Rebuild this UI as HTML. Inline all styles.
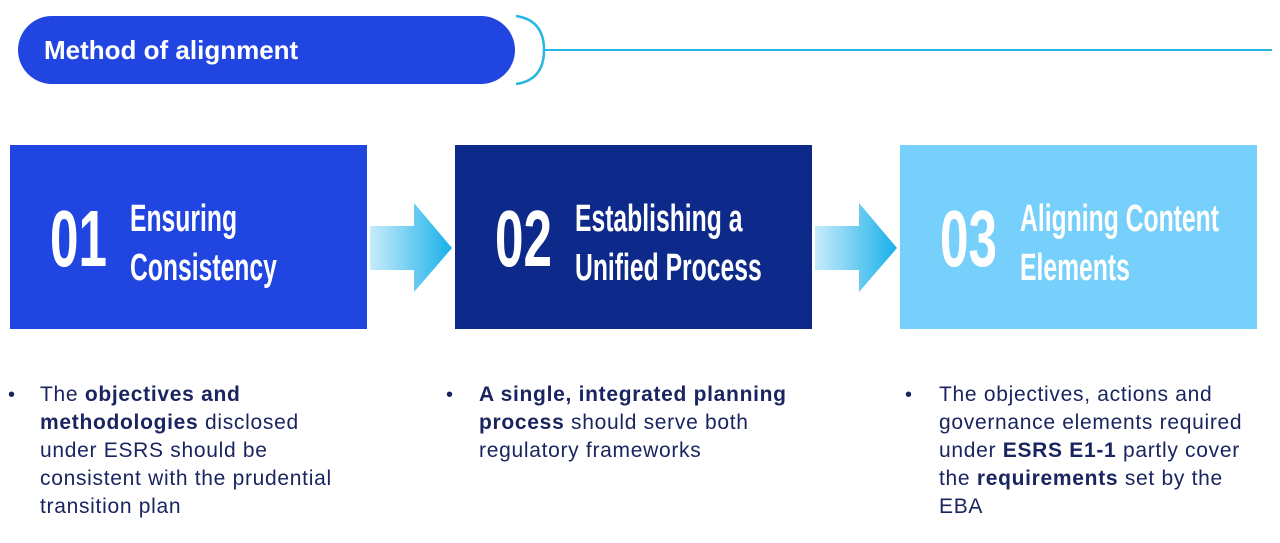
<!DOCTYPE html>
<html><head><style>
body{margin:0;width:1280px;height:543px;background:#fff;position:relative;overflow:hidden;font-family:"Liberation Sans",sans-serif}
.pill{position:absolute;left:18px;top:16px;width:497px;height:68px;border-radius:34px;background:#2145e0;color:#fff;font-weight:bold;font-size:26px;line-height:68px;padding-left:26px;box-sizing:border-box}
.box{position:absolute;top:145px;width:357px;height:184px}
.num{position:absolute;left:40px;top:54px;font-weight:bold;font-size:80px;line-height:80px;color:#fff;transform:scaleX(0.64);transform-origin:left top}
.tt{position:absolute;left:120px;top:50px;font-weight:bold;font-size:38px;line-height:49px;color:#fff;transform:scaleX(0.65);transform-origin:left top;white-space:nowrap}
.txt{position:absolute;top:381px;font-size:21px;line-height:28px;color:#1a2560;letter-spacing:0.7px;white-space:nowrap}
.txt b{font-weight:bold}
.bul{position:absolute;top:381px;font-size:20px;line-height:28px;color:#1a2560}
</style></head><body>
<div class="pill">Method of alignment</div>
<svg style="position:absolute;left:0;top:0" width="1280" height="543">
<path d="M516 16 Q544 20 544 50 Q544 80 516 84" fill="none" stroke="#29b6e0" stroke-width="2.5"/>
<line x1="544" y1="50" x2="1272" y2="50" stroke="#29b6e0" stroke-width="2"/>
<defs><linearGradient id="g" x1="0" x2="1"><stop offset="0" stop-color="#c8ecfa"/><stop offset="1" stop-color="#18b0ea"/></linearGradient></defs>
<polygon points="370,226 414,226 414,203 452,248 414,292 414,270 370,270" fill="url(#g)"/>
<polygon points="815,226 859,226 859,203 897,248 859,292 859,270 815,270" fill="url(#g)"/>
</svg>
<div class="box" style="left:10px;background:#2145e0"><div class="num">01</div><div class="tt">Ensuring<br>Consistency</div></div>
<div class="box" style="left:455px;background:#0d2a8a"><div class="num">02</div><div class="tt">Establishing a<br>Unified Process</div></div>
<div class="box" style="left:900px;background:#77d0fb"><div class="num">03</div><div class="tt">Aligning Content<br>Elements</div></div>
<div class="bul" style="left:8px">•</div>
<div class="txt" style="left:40px">The <b>objectives and</b><br><b>methodologies</b> disclosed<br>under ESRS should be<br>consistent with the prudential<br>transition plan</div>
<div class="bul" style="left:446px">•</div>
<div class="txt" style="left:479px"><b>A single, integrated planning</b><br><b>process</b> should serve both<br>regulatory frameworks</div>
<div class="bul" style="left:905px">•</div>
<div class="txt" style="left:939px">The objectives, actions and<br>governance elements required<br>under <b>ESRS E1-1</b> partly cover<br>the <b>requirements</b> set by the<br>EBA</div>
</body></html>
